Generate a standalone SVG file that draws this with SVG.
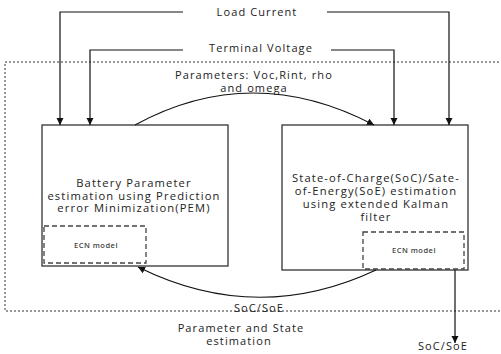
<svg xmlns="http://www.w3.org/2000/svg" width="501" height="354" viewBox="0 0 501 354">
<style>
text{font-family:"Open Sans","Noto Sans","Liberation Sans",sans-serif;fill:#222;text-anchor:middle}
.lbl{font-size:11px;letter-spacing:1.1px}
.box{font-size:11.2px;letter-spacing:1.15px}
.ecn{font-size:7.5px;font-weight:600;letter-spacing:0.5px;fill:#444}
.frame{fill:#fff;stroke:#333;stroke-width:1.3}
.dash{fill:none;stroke:#444;stroke-width:1.3;stroke-dasharray:5,3}
.ln{fill:none;stroke:#111;stroke-width:1.2}
</style>
<defs>
<marker id="ah" markerWidth="8" markerHeight="8" refX="7" refY="4" orient="auto" markerUnits="userSpaceOnUse">
<path d="M0,0.5 L7,4 L0,7.5 Z" fill="#111"/>
</marker>
</defs>
<rect x="0" y="0" width="501" height="354" fill="#fff"/>
<g id="boundary">
<rect x="5" y="62" width="497" height="249" fill="none" stroke="#333" stroke-width="1" stroke-dasharray="2,2"/>
<text class="lbl" x="241" y="332">Parameter and State</text>
<text class="lbl" x="239" y="345">estimation</text>
</g>
<g id="pem">
<rect class="frame" x="42" y="125" width="186" height="141"/>
<text class="box" x="134" y="187">Battery Parameter</text>
<text class="box" x="134" y="199.5">estimation using Prediction</text>
<text class="box" x="134" y="212">error Minimization(PEM)</text>
<rect class="dash" x="44" y="226" width="102" height="37"/>
<text class="ecn" x="96" y="248">ECN model</text>
</g>
<g id="ekf">
<rect class="frame" x="282" y="125" width="186" height="145"/>
<text class="box" x="376" y="182">State-of-Charge(SoC)/Sate-</text>
<text class="box" x="376" y="195">of-Energy(SoE)  estimation</text>
<text class="box" x="376" y="208">using extended Kalman</text>
<text class="box" x="376" y="221">filter</text>
<rect class="dash" x="363" y="232" width="101" height="37"/>
<text class="ecn" x="414" y="253">ECN model</text>
</g>
<g id="connectors">
<polyline class="ln" points="183,12 60,12 60,125" marker-end="url(#ah)"/>
<polyline class="ln" points="327,12 449,12 449,125" marker-end="url(#ah)"/>
<text class="lbl" x="257" y="16">Load Current</text>
<polyline class="ln" points="183,50 90,50 90,125" marker-end="url(#ah)"/>
<polyline class="ln" points="331,50 394,50 394,125" marker-end="url(#ah)"/>
<text class="lbl" x="261" y="52">Terminal Voltage</text>
<path class="ln" d="M135,125 Q252,61 374,125" marker-end="url(#ah)"/>
<text class="lbl" x="254" y="79">Parameters: Voc,Rint, rho</text>
<text class="lbl" x="254" y="92">and omega</text>
<path class="ln" d="M376,270 Q257,326 138,267" marker-end="url(#ah)"/>
<text class="lbl" x="259" y="312">SoC/SoE</text>
<line class="ln" x1="455" y1="270" x2="455" y2="343" marker-end="url(#ah)"/>
<text class="lbl" x="443" y="350">SoC/SoE</text>
</g>
</svg>
